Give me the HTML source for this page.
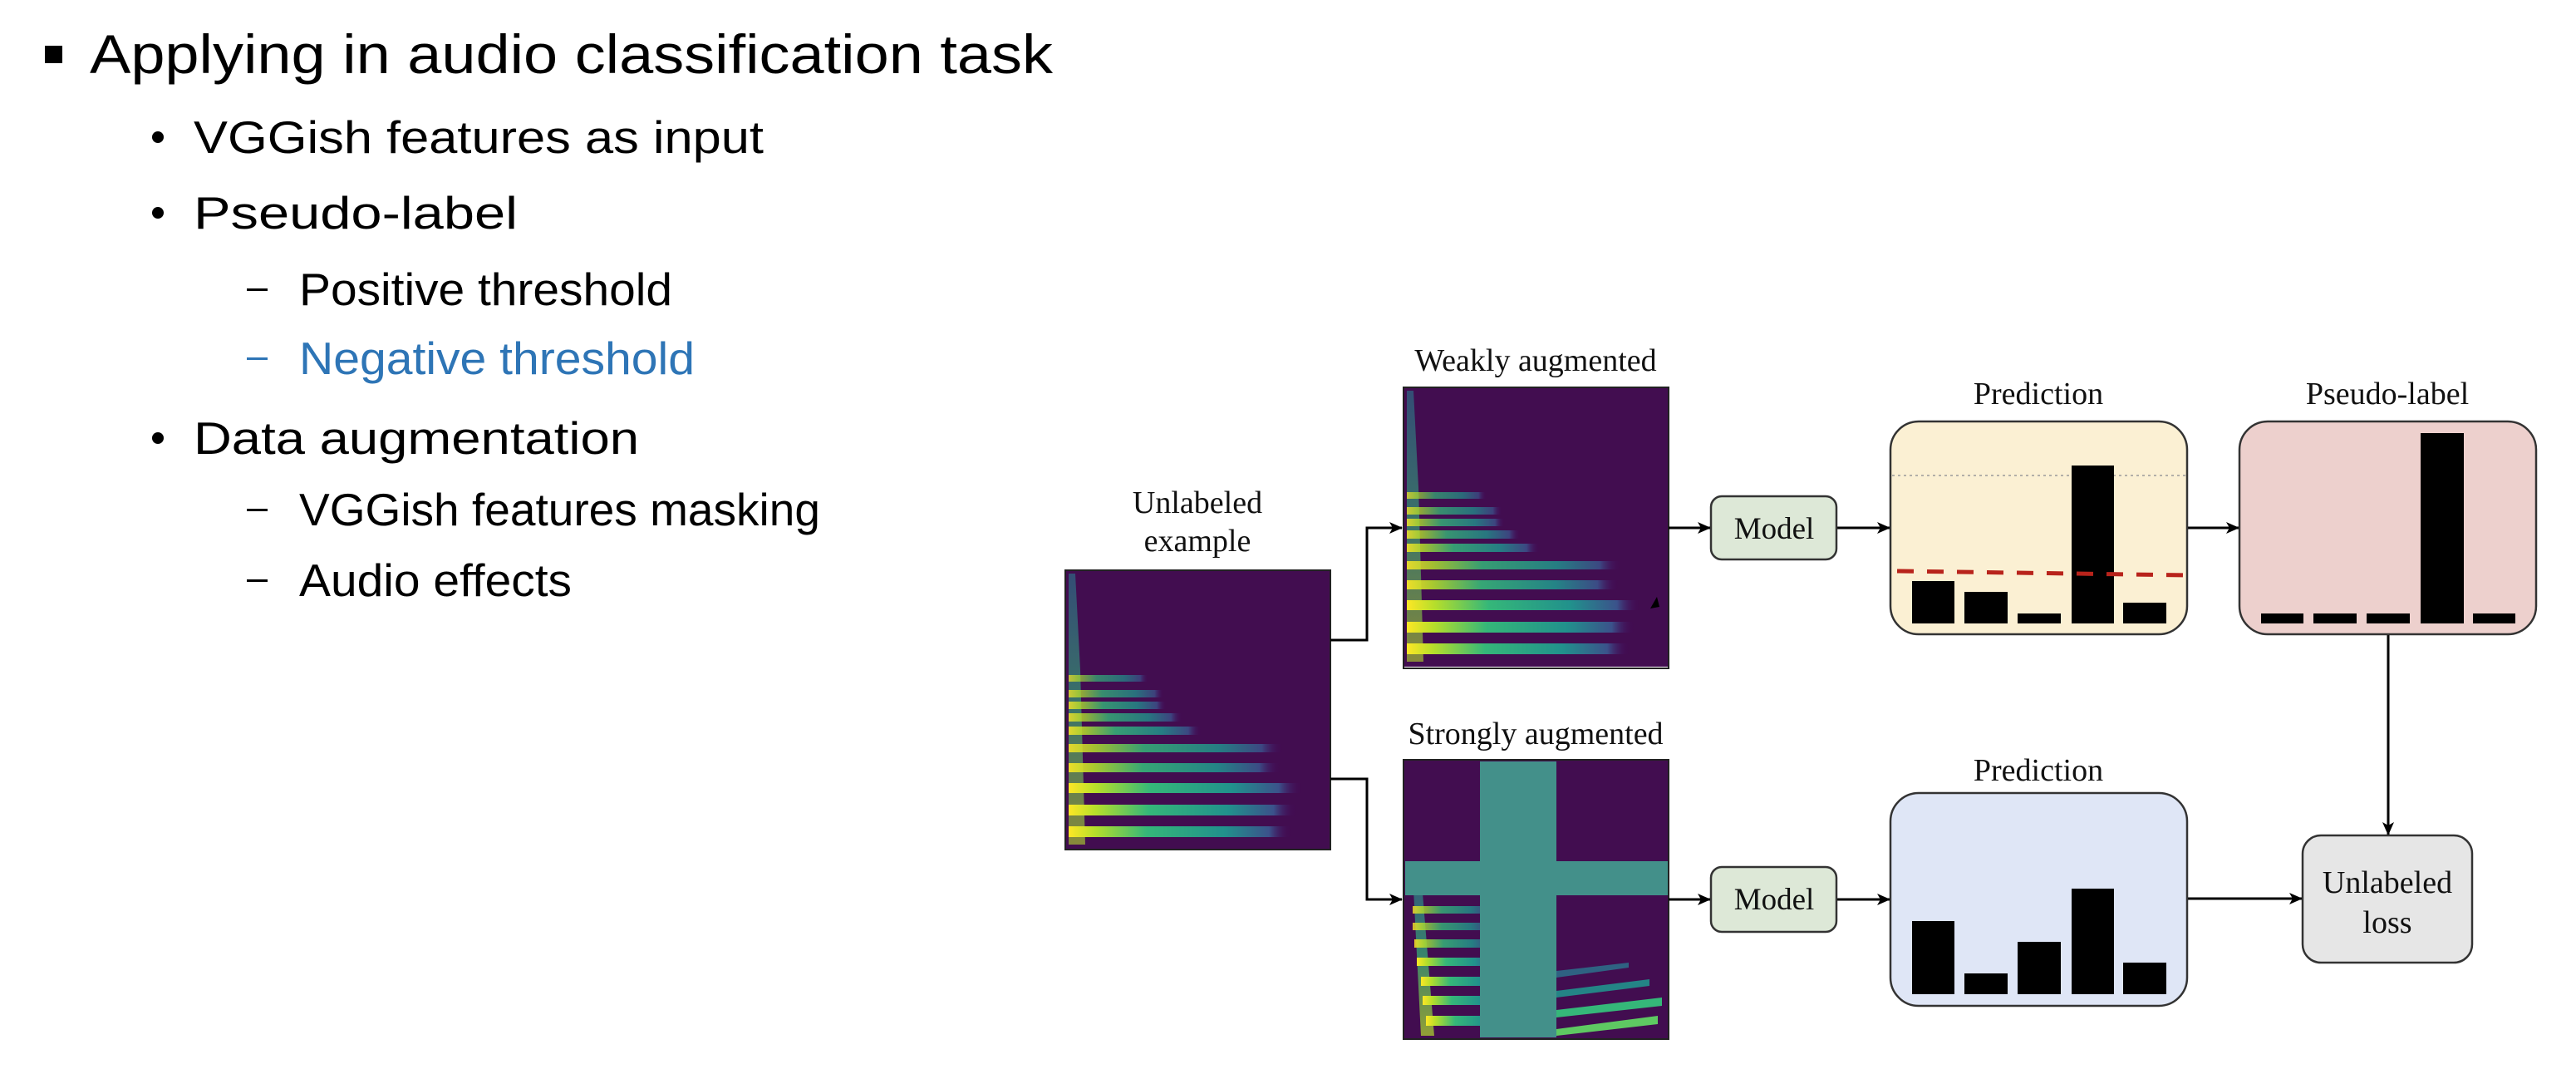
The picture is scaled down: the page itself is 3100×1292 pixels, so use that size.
<!DOCTYPE html>
<html><head><meta charset="utf-8"><style>
html,body{margin:0;padding:0;background:#fff;}
svg{display:block;}
.c{font-family:"Liberation Sans",sans-serif;}
.s{font-family:"Liberation Serif",serif;fill:#111;}
</style></head><body>
<svg width="3100" height="1292" viewBox="0 0 3100 1292" xmlns="http://www.w3.org/2000/svg">
<defs>
<marker id="ah" markerWidth="16" markerHeight="14" refX="15" refY="7" orient="auto" markerUnits="userSpaceOnUse">
<path d="M0,0 L16,7 L0,14 L4,7 Z" fill="#000"/></marker>
<linearGradient id="st" x1="0" x2="1" y1="0" y2="0">
<stop offset="0" stop-color="#fde725"/><stop offset="0.12" stop-color="#b5de2b"/>
<stop offset="0.35" stop-color="#35b779"/><stop offset="0.7" stop-color="#21918c"/>
<stop offset="0.9" stop-color="#3b528b"/><stop offset="1" stop-color="#440154" stop-opacity="0"/></linearGradient>
<linearGradient id="vs" x1="0" x2="0" y1="0" y2="1">
<stop offset="0" stop-color="#2a788e"/><stop offset="0.5" stop-color="#35b779"/><stop offset="1" stop-color="#b5de2b"/></linearGradient>
<g id="spec">
<rect x="0" y="0" width="319" height="336" fill="#420d50"/>
<path d="M4,4 L12,4 L18,120 L24,330 L4,330 Z" fill="url(#vs)" opacity="0.6"/>
<rect x="4" y="126" width="96" height="8" fill="url(#st)" opacity="0.7"/>
<rect x="4" y="144" width="115" height="9" fill="url(#st)" opacity="0.75"/>
<rect x="4" y="158" width="118" height="9" fill="url(#st)" opacity="0.8"/>
<rect x="4" y="172" width="137" height="10" fill="url(#st)" opacity="0.8"/>
<rect x="4" y="188" width="160" height="10" fill="url(#st)" opacity="0.85"/>
<rect x="4" y="209" width="258" height="10" fill="url(#st)" opacity="0.85"/>
<rect x="4" y="232" width="255" height="11" fill="url(#st)" opacity="0.9"/>
<rect x="4" y="256" width="281" height="12" fill="url(#st)"/>
<rect x="4" y="282" width="274" height="13" fill="url(#st)"/>
<rect x="4" y="308" width="268" height="13" fill="url(#st)"/>
</g>
</defs>

<!-- left text -->
<rect x="54" y="55" width="21" height="21" fill="#000"/>
<text class="c" x="108" y="88" font-size="66" textLength="1159" lengthAdjust="spacingAndGlyphs">Applying in audio classification task</text>
<g class="c" font-size="55" fill="#000">
<circle cx="190" cy="165" r="7"/>
<text x="233" y="184" textLength="686" lengthAdjust="spacingAndGlyphs">VGGish features as input</text>
<circle cx="190" cy="256" r="7"/>
<text x="233" y="275" textLength="390" lengthAdjust="spacingAndGlyphs">Pseudo-label</text>
<rect x="297" y="347" width="25" height="3"/>
<text x="360" y="367" textLength="449" lengthAdjust="spacingAndGlyphs">Positive threshold</text>
<rect x="297" y="430" width="25" height="3" fill="#2e75b6"/>
<text x="360" y="450" fill="#2e75b6" textLength="476" lengthAdjust="spacingAndGlyphs">Negative threshold</text>
<circle cx="190" cy="527" r="7"/>
<text x="233" y="546" textLength="536" lengthAdjust="spacingAndGlyphs">Data augmentation</text>
<rect x="297" y="612" width="25" height="3"/>
<text x="360" y="632" textLength="627" lengthAdjust="spacingAndGlyphs">VGGish features masking</text>
<rect x="297" y="697" width="25" height="3"/>
<text x="360" y="717" textLength="328" lengthAdjust="spacingAndGlyphs">Audio effects</text>
</g>

<!-- diagram labels -->
<g class="s" font-size="38" text-anchor="middle">
<text x="1441" y="617">Unlabeled</text>
<text x="1441" y="663">example</text>
<text x="1848" y="446">Weakly augmented</text>
<text x="1848" y="895">Strongly augmented</text>
<text x="2453" y="486">Prediction</text>
<text x="2873" y="486">Pseudo-label</text>
<text x="2453" y="939">Prediction</text>
</g>

<!-- spectrograms -->
<use href="#spec" x="1282" y="686"/>
<rect x="1282" y="686" width="319" height="336" fill="none" stroke="#222" stroke-width="2"/>
<use href="#spec" x="1689" y="466"/>
<path d="M1986,732 l8,-14 l3,12 z" fill="#000"/>
<rect x="1689" y="466" width="319" height="338" fill="none" stroke="#222" stroke-width="2"/>
<g>
<rect x="1689" y="914" width="319" height="336" fill="#420d50"/>
<path d="M1700,1050 L1710,1050 L1726,1246 L1710,1246 Z" fill="url(#vs)" opacity="0.7"/>
<rect x="1700" y="1090" width="100" height="9" fill="url(#st)" opacity="0.8"/>
<rect x="1700" y="1110" width="100" height="9" fill="url(#st)" opacity="0.8"/>
<rect x="1702" y="1130" width="100" height="10" fill="url(#st)" opacity="0.85"/>
<rect x="1705" y="1152" width="100" height="10" fill="url(#st)"/>
<rect x="1710" y="1175" width="100" height="11" fill="url(#st)"/>
<rect x="1712" y="1198" width="100" height="11" fill="url(#st)"/>
<rect x="1716" y="1222" width="100" height="12" fill="url(#st)"/>
<path d="M1873,1168 L1960,1158 L1960,1164 L1873,1176 Z" fill="#2a788e" opacity="0.8"/>
<path d="M1873,1192 L1985,1178 L1985,1186 L1873,1200 Z" fill="#21918c" opacity="0.9"/>
<path d="M1873,1215 L2000,1200 L2000,1210 L1873,1224 Z" fill="#35b779"/>
<path d="M1873,1238 L1995,1222 L1995,1232 L1873,1246 Z" fill="#5ec962"/>
<rect x="1781" y="916" width="92" height="332" fill="#43908a"/>
<rect x="1691" y="1036" width="316" height="41" fill="#43908a"/>
<rect x="1689" y="914" width="319" height="336" fill="none" stroke="#222" stroke-width="2"/>
</g>

<!-- connectors -->
<g stroke="#000" stroke-width="3" fill="none">
<path d="M1601,770 H1645 V635 H1687" marker-end="url(#ah)"/>
<path d="M1601,937 H1645 V1082 H1687" marker-end="url(#ah)"/>
<path d="M2008,635 H2058" marker-end="url(#ah)"/>
<path d="M2008,1082 H2058" marker-end="url(#ah)"/>
<path d="M2210,635 H2274" marker-end="url(#ah)"/>
<path d="M2210,1082 H2274" marker-end="url(#ah)"/>
<path d="M2632,635 H2694" marker-end="url(#ah)"/>
<path d="M2632,1081 H2770" marker-end="url(#ah)"/>
<path d="M2874,763 V1004" marker-end="url(#ah)"/>
</g>

<!-- model boxes -->
<rect x="2059" y="597" width="151" height="76" rx="13" fill="#dde8d7" stroke="#333" stroke-width="2.5"/>
<rect x="2059" y="1043" width="151" height="78" rx="13" fill="#dde8d7" stroke="#333" stroke-width="2.5"/>
<g class="s" font-size="37" text-anchor="middle">
<text x="2135" y="648">Model</text>
<text x="2135" y="1094">Model</text>
</g>

<!-- prediction top -->
<rect x="2275" y="507" width="357" height="256" rx="34" fill="#fbf0d3" stroke="#333" stroke-width="2.5"/>
<line x1="2277" y1="572" x2="2630" y2="572" stroke="#999" stroke-width="1.5" stroke-dasharray="3,4"/>
<g fill="#000">
<rect x="2301" y="699" width="51" height="51"/>
<rect x="2364" y="712" width="52" height="38"/>
<rect x="2428" y="738" width="52" height="12"/>
<rect x="2493" y="560" width="51" height="190"/>
<rect x="2555" y="725" width="52" height="25"/>
</g>
<line x1="2283" y1="687" x2="2636" y2="692" stroke="#b8231b" stroke-width="5" stroke-dasharray="20,16"/>

<!-- pseudo-label -->
<rect x="2695" y="507" width="357" height="256" rx="34" fill="#edd0cd" stroke="#333" stroke-width="2.5"/>
<g fill="#000">
<rect x="2721" y="738" width="51" height="12"/>
<rect x="2784" y="738" width="52" height="12"/>
<rect x="2848" y="738" width="52" height="12"/>
<rect x="2913" y="521" width="52" height="229"/>
<rect x="2976" y="738" width="51" height="12"/>
</g>

<!-- prediction bottom -->
<rect x="2275" y="954" width="357" height="256" rx="34" fill="#dfe6f6" stroke="#333" stroke-width="2.5"/>
<g fill="#000">
<rect x="2301" y="1108" width="51" height="88"/>
<rect x="2364" y="1171" width="52" height="25"/>
<rect x="2428" y="1133" width="52" height="63"/>
<rect x="2493" y="1069" width="51" height="127"/>
<rect x="2555" y="1158" width="52" height="38"/>
</g>

<!-- loss -->
<rect x="2771" y="1005" width="204" height="153" rx="22" fill="#e6e6e6" stroke="#333" stroke-width="2.5"/>
<g class="s" font-size="38" text-anchor="middle">
<text x="2873" y="1074">Unlabeled</text>
<text x="2873" y="1122">loss</text>
</g>
</svg>
</body></html>
